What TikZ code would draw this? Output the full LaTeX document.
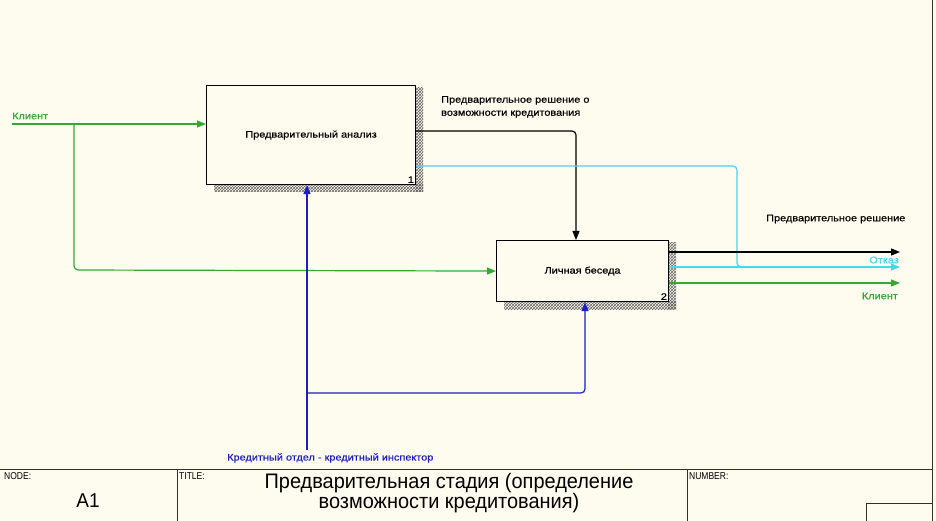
\documentclass[tikz,border=0pt]{standalone}
\usepackage{fontspec}
\setmainfont{Liberation Sans}
\newfontfamily\lblfont[FakeStretch=1.15,FakeBold=0.6]{Liberation Sans}
\newfontfamily\smallcond[FakeStretch=0.85]{Liberation Sans}
\newfontfamily\titlefont[FakeStretch=0.95]{Liberation Sans}
\usetikzlibrary{arrows.meta,patterns}
\definecolor{bgc}{HTML}{FEFBEF}
\definecolor{grn}{RGB}{50,170,50}
\definecolor{cyn}{RGB}{70,215,235}
\definecolor{blu}{RGB}{30,30,190}
\definecolor{frame}{RGB}{50,50,45}
\begin{document}
\begin{tikzpicture}[x=1pt,y=-1pt,
  procbox/.style={draw=black, line width=1.1pt, fill=bgc, anchor=north west,
    font=\lblfont\fontsize{9.5}{12}\selectfont, inner sep=0pt},
  boxnum/.style={anchor=south east, inner sep=2pt, font=\lblfont\fontsize{9.5}{12}\selectfont},
  lbl/.style={inner sep=0pt, font=\lblfont\fontsize{9.5}{13}\selectfont, align=left},
  conn/.style={line width=1.2pt, rounded corners=4pt},
  tip/.style={-{Triangle[length=9pt,width=7pt]}},
  shadow/.style={pattern=crosshatch, pattern color=black!60},
  frm/.style={draw=frame, line width=1pt},
  hdr/.style={anchor=west, inner sep=0pt, font=\smallcond\fontsize{10}{12}\selectfont},
]
\fill[bgc] (0,0) rectangle (936,521);
\useasboundingbox (0,0) rectangle (936,521);

% shadows
\fill[shadow] (415,88) rectangle (423,192);
\fill[shadow] (214,184) rectangle (423,192);
\fill[shadow] (668,243) rectangle (676,309);
\fill[shadow] (504,301) rectangle (676,309);

% boxes
\node[procbox, minimum width=209pt, minimum height=99pt] (box1) at (206,85) {Предварительный анализ};
\node[boxnum] (n1) at (box1.south east) {1};
\node[procbox, minimum width=172pt, minimum height=61pt] (box2) at (496,240) {Личная беседа};
\node[boxnum] (n2) at (box2.south east) {2};

% coordinates
\coordinate (kin) at (12,124);
\coordinate (kbr) at (74,124);
\coordinate (outdec) at (900,252);
\coordinate (outotk) at (900,267);
\coordinate (outkl) at (900,283);
\coordinate (mech) at (307,450);
\coordinate (mbr) at (307,393);

% Client input
\draw[conn, grn, tip] (kin) -- (box1.west |- kin);
\draw[conn, grn, tip] (kbr) -- (74,270) -- (box2.west);

% preliminary decision box1 -> box2
\draw[conn, black, tip] (box1.east |- 0,131) -- (576,131) -- (576,0 |- box2.north);
% cyan from box1 joining Otkaz
\draw[conn, cyn] (box1.east |- 0,166) -- (737,166) -- (737,267) -- (750,267);
% outputs of box2
\draw[conn, black, tip] (box2.east |- outdec) -- (outdec);
\draw[conn, cyn, tip] (box2.east |- outotk) -- (outotk);
\draw[conn, grn, tip] (box2.east |- outkl) -- (outkl);

% mechanism
\draw[conn, blu, tip] (mech) -- (307,0 |- box1.south);
\draw[conn, blu, tip] (mbr) -- (585,393) -- (585,0 |- box2.south);

% labels
\node[lbl, grn, anchor=west] (lkin) at (12,116) {Клиент};
\node[lbl, anchor=north west] (ldec1) at (441,96) {Предварительное решение о\\возможности кредитования};
\node[lbl, anchor=west] (ldec2) at (766,219) {Предварительное решение};
\node[lbl, cyn, anchor=east] (lotk) at (899,260) {Отказ};
\node[lbl, grn, anchor=east] (lkl) at (898,296) {Клиент};
\node[lbl, blu, anchor=west] (lmech) at (227,458) {Кредитный отдел - кредитный инспектор};

% title block
\draw[frm] (0,469) -- (932,469);
\draw[frm] (932,0) -- (932,521);
\draw[frm] (177,469) -- (177,521);
\draw[frm] (687,469) -- (687,521);
\draw[frm] (866,521) -- (866,503) -- (932,503);
\node[hdr] (hnode) at (4,476) {NODE:};
\node[hdr] (htitle) at (179,476) {TITLE:};
\node[hdr] (hnum) at (689,476) {NUMBER:};
\node[inner sep=0pt, font=\titlefont\fontsize{20}{20}\selectfont] (a1) at (88,501) {A1};
\node[inner sep=0pt, align=center, font=\titlefont\fontsize{21}{20}\selectfont] (ttl) at (449,493) {Предварительная стадия (определение\\возможности кредитования)};
\end{tikzpicture}
\end{document}
